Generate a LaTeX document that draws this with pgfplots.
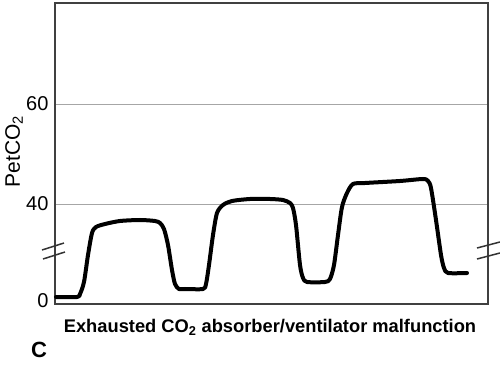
\documentclass[border=0pt]{standalone}
\usepackage{pgfplots}
\pgfplotsset{compat=1.18}
\usepackage{fontspec}
\setmainfont{Liberation Sans}
\begin{document}
\begin{tikzpicture}
\useasboundingbox (-55pt,-62pt) rectangle (445pt,304pt);
\begin{axis}[
  at={(0,0)}, anchor=south west,
  scale only axis, width=433pt, height=301pt,
  xmin=55, xmax=488, ymin=20, ymax=80.2,
  xtick=\empty,
  ytick={40,60},
  extra y ticks={20.6}, extra y tick labels={0},
  extra y tick style={grid=none},
  ymajorgrids=true,
  grid style={gray!70, line width=0.8pt},
  major tick length=0pt,
  axis line style={black!75, line width=1.3pt},
  /pgf/number format/assume math mode=true,
  yticklabel style={font=\fontsize{20}{22}\selectfont, xshift=-3pt},
  clip=false,
]
\addplot[black, line width=4pt, line join=round, line cap=round, smooth, tension=0.45] coordinates {
(56,21.4) (77,21.4) (80,22) (84,24.4) (88,29.8) (92,34.2) (96,35.4) (105,36) (120,36.6) (140,36.8) (155,36.6) (160,36.2) (164,35) (168,31.8) (172,26.8) (175,24) (179,23) (185,23) (203,23) (206,24) (209,27.8) (213,33.8) (217,38.2) (223,39.8) (232,40.6) (250,41) (270,41) (283,40.8) (290,40.2) (293,39.2) (296,35.8) (300,27.8) (303,25.2) (307,24.4) (325,24.4) (330,25) (334,27.8) (338,33.8) (342,39.4) (347,42.2) (353,44) (365,44.2) (400,44.6) (423,45) (428,44.6) (431,43.2) (436,36.8) (441,29.8) (444,27.2) (448,26.2) (467,26.2)
};
% axis break marks
\draw[black!80, line width=1.5pt] ([xshift=-13pt,yshift=54pt]rel axis cs:0,0) -- ([xshift=9pt,yshift=61pt]rel axis cs:0,0);
\draw[black!80, line width=1.5pt] ([xshift=-12pt,yshift=45pt]rel axis cs:0,0) -- ([xshift=10pt,yshift=52pt]rel axis cs:0,0);
\draw[black!80, line width=1.5pt] ([xshift=-11pt,yshift=56pt]rel axis cs:1,0) -- ([xshift=12pt,yshift=62pt]rel axis cs:1,0);
\draw[black!80, line width=1.5pt] ([xshift=-11pt,yshift=45pt]rel axis cs:1,0) -- ([xshift=12pt,yshift=51pt]rel axis cs:1,0);
% labels
\node[rotate=90, anchor=center, font=\fontsize{21}{24}\selectfont] at ([xshift=-41pt,yshift=2pt]rel axis cs:0,0.5) {PetCO\textsubscript{2}};
\node[anchor=base, font=\fontsize{18.3}{22}\selectfont\bfseries] at ([xshift=215pt,yshift=-29pt]rel axis cs:0,0) {Exhausted CO\textsubscript{2} absorber/ventilator malfunction};
\node[anchor=base west, inner sep=0pt, font=\fontsize{22}{24}\selectfont\bfseries] at ([xshift=-24pt,yshift=-54pt]rel axis cs:0,0) {C};
\end{axis}
\end{tikzpicture}
\end{document}
